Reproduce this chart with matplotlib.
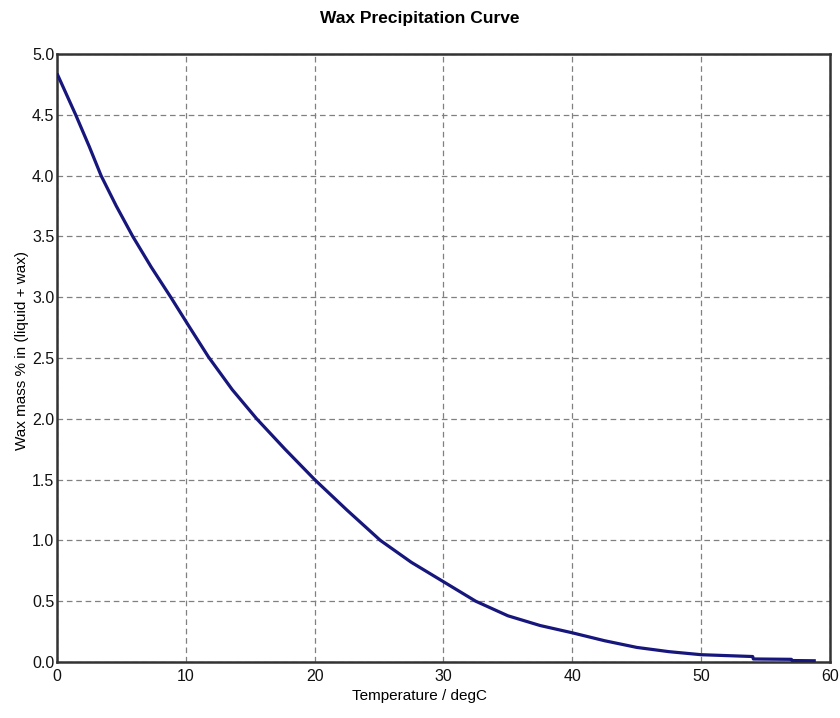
import matplotlib
matplotlib.use("Agg")
import matplotlib.pyplot as plt
from matplotlib import font_manager

names = {f.name for f in font_manager.fontManager.ttflist}
fam = ["Liberation Sans Narrow", "Liberation Sans", "DejaVu Sans"]
fam = [f for f in fam if f in names] + ["DejaVu Sans"]
plt.rcParams['font.family'] = fam

temperature = [0, 1.45, 2.5, 3.42, 4.6, 5.88, 7.3, 8.83, 10.25, 11.75, 13.6, 15.5, 17.7,
               20.0, 22.5, 25.1, 27.5, 30.0, 32.5, 35.0, 37.5, 40.0, 42.5, 45.0, 47.5,
               50.0, 54.0, 54.05, 57.0, 57.05, 58.9]
wax_pct = [4.84, 4.50, 4.24, 4.00, 3.75, 3.50, 3.25, 3.00, 2.76, 2.51, 2.24, 2.00, 1.75,
           1.50, 1.25, 1.00, 0.82, 0.66, 0.50, 0.38, 0.30, 0.24, 0.175, 0.12, 0.085,
           0.06, 0.045, 0.025, 0.022, 0.012, 0.01]
xticks = [0, 10, 20, 30, 40, 50, 60]
yticks = [0.0, 0.5, 1.0, 1.5, 2.0, 2.5, 3.0, 3.5, 4.0, 4.5, 5.0]

fig = plt.figure(figsize=(8.4, 7.18), dpi=100)
ax = fig.add_axes([57/840, 1-662/718, (830-57)/840, (662-54)/718])
ax.plot(temperature, wax_pct, color="#16167c", lw=2.3, solid_capstyle="butt",
        solid_joinstyle="round", zorder=3)
ax.set_xlim(0, 60)
ax.set_ylim(0, 5.0)
ax.set_xticks(xticks)
ax.set_yticks(yticks)
ax.set_yticklabels([f"{v:.1f}" for v in yticks])
ax.tick_params(length=0, labelsize=11.5, colors="#111111")
ax.tick_params(axis="x", pad=5)
ax.tick_params(axis="y", pad=2)
ax.grid(True, color="#808080", linestyle=(0, (4.5, 3)), lw=0.9)
for s in ax.spines.values():
    s.set_color("#333333")
    s.set_linewidth(1.8)
fig.text(0.5, 1 - 18/718, "Wax Precipitation Curve", fontsize=12.5, fontweight="bold",
         ha="center", va="center")
fig.text(420/840, 1 - 696/718, "Temperature / degC", fontsize=11, ha="center", va="center")
fig.text(22/840, 1 - 350/718, "Wax mass % in (liquid + wax)", fontsize=11, ha="center",
         va="center", rotation=90)
fig.savefig("out.png", dpi=100)
